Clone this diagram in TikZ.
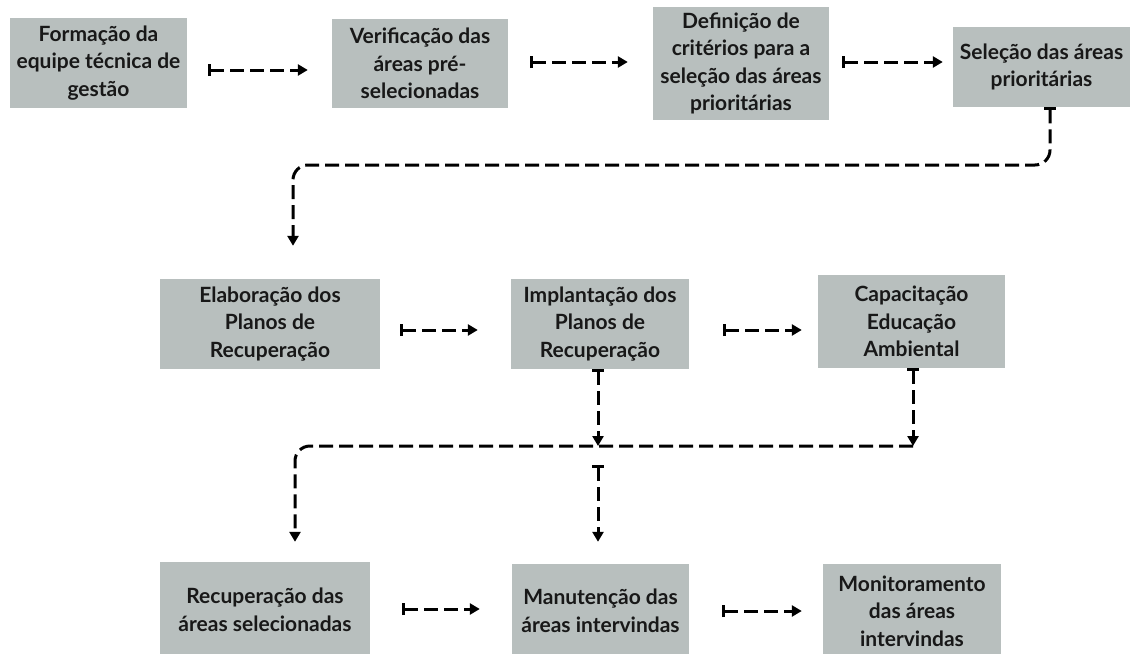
\documentclass[tikz,border=0pt]{standalone}
\usepackage{fontspec}
\setmainfont{Lato}
\usetikzlibrary{arrows.meta}
\definecolor{boxgray}{RGB}{184,191,190}
\definecolor{ink}{RGB}{24,24,24}
\begin{document}
\begin{tikzpicture}[x=1pt,y=-1pt,
  box/.style={fill=boxgray, draw=none, align=center, text=ink,
    font=\fontsize{21}{27.5}\selectfont\bfseries, inner sep=0pt},
  link/.style={draw=black, line width=3pt, dash pattern=on 14pt off 6pt},
  conn/.style={link, {Bar[width=12pt,line width=2.8pt]}-{Triangle[width=11pt,length=10pt]}},
  connb/.style={link, -{Triangle[width=11pt,length=10pt]}}
]
\useasboundingbox (0,0) rectangle (1134,653);
\fill[white] (0,0) rectangle (1134,653);

% row 1
\node[box, minimum width=177pt, minimum height=90pt] (b1) at (98.5,63) {Formação da\\equipe técnica de\\gestão};
\node[box, minimum width=176pt, minimum height=89pt] (b2) at (420,63.5) {Verificação das\\áreas pré-\\selecionadas};
\node[box, minimum width=176pt, minimum height=113pt] (b3) at (741,63.5) {Definição de\\critérios para a\\seleção das áreas\\prioritárias};
\node[box, minimum width=177pt, minimum height=80pt] (b4) at (1041.5,67) {Seleção das áreas\\prioritárias};

% row 2
\node[box, minimum width=220pt, minimum height=90pt] (b5) at (270,324) {Elaboração dos\\Planos de\\Recuperação};
\node[box, minimum width=178pt, minimum height=90pt] (b6) at (600,324) {Implantação dos\\Planos de\\Recuperação};
\node[box, minimum width=187pt, minimum height=93pt] (b7) at (911.5,321.5) {Capacitação\\Educação\\Ambiental};

% row 3
\node[box, minimum width=210pt, minimum height=96pt] (b8) at (265,610) {Recuperação das\\áreas selecionadas};
\node[box, minimum width=177pt, minimum height=94pt] (b9) at (600.5,611) {Manutenção das\\áreas intervindas};
\node[box, minimum width=178pt, minimum height=94pt] (b10) at (912,611) {Monitoramento\\das áreas\\intervindas};

% horizontal connectors
\draw[conn, shorten <=21pt, shorten >=24pt] (b1.east |- 0,70) -- (b2.west |- 0,70);
\draw[conn, shorten <=22pt, shorten >=25pt] (b2.east |- 0,62) -- (b3.west |- 0,62);
\draw[conn, shorten <=13pt, shorten >=10pt] (b3.east |- 0,62) -- (b4.west |- 0,62);
\draw[conn, shorten <=20pt, shorten >=33pt] (b5.east |- 0,330) -- (b6.west |- 0,330);
\draw[conn, shorten <=34pt, shorten >=16pt] (b6.east |- 0,330) -- (b7.west |- 0,330);
\draw[conn, shorten <=32pt, shorten >=32pt] (b8.east |- 0,609) -- (b9.west |- 0,609);
\draw[conn, shorten <=33pt, shorten >=21pt] (b9.east |- 0,611) -- (b10.west |- 0,611);

% row 1 -> row 2
\draw[conn, rounded corners=15pt, shorten >=33pt]
  ([xshift=8.5pt]b4.south) |- ([xshift=23pt]b5.north |- 0,165) -- ([xshift=23pt]b5.north);

% row 2 -> junction line
\coordinate (j1) at (598,446);
\coordinate (j2) at (913,446);
\draw[conn] ([xshift=-2pt]b6.south) -- (j1);
\draw[conn] ([xshift=1.5pt]b7.south) -- (j2);
\draw[connb, rounded corners=15pt, shorten >=20pt] (j2) -| ([xshift=30pt]b8.north);
\draw[conn, shorten <=19pt, shorten >=22pt] (j1) -- (j1 |- b9.north);
\end{tikzpicture}
\end{document}
